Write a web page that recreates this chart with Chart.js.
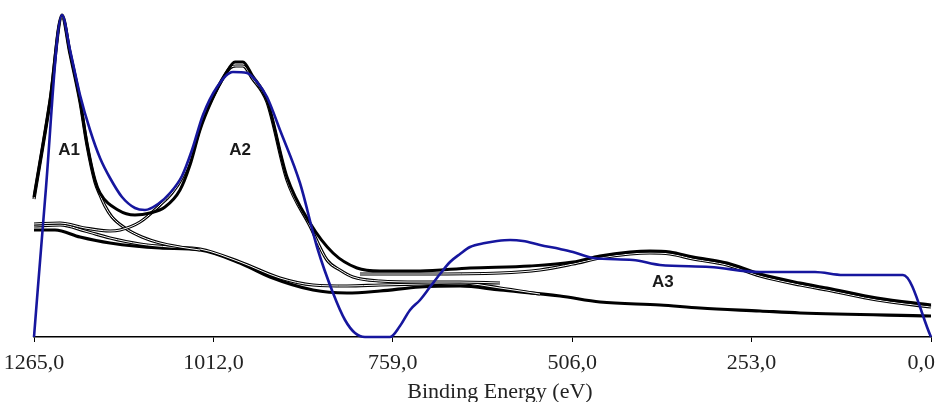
<!DOCTYPE html>
<html>
<head>
<meta charset="utf-8">
<script src="https://cdn.jsdelivr.net/npm/chart.js@4.4.1/dist/chart.umd.min.js"></script>
<style>
  html, body { margin: 0; padding: 0; background: #fff; }
  #wrap { width: 940px; height: 402px; }
</style>
</head>
<body>
<div id="wrap"><canvas id="xps"></canvas></div>
<script>
// x = binding energy (eV), y = intensity (arb. units)
const tickValues = [1265, 1012, 759, 506, 253, 0];
const axisTitle = 'Binding Energy (eV)';

// measured spectrum (blue)
const measE = [1265, 1249.5, 1225.5, 1214.2, 1200.1, 1186.0, 1171.9, 1157.8, 1140.9, 1122.6, 1108.5, 1090.1, 1073.2, 1056.3, 1042.2, 1026.7, 1006.9, 984.4, 964.6, 950.5, 936.4, 918.1, 889.9, 865.9, 843.3, 826.4, 812.3, 798.2, 763.0, 748.9, 734.7, 720.6, 706.5, 692.4, 678.3, 664.2, 650.1, 629.0, 612.0, 593.6, 575.4, 551.4, 523.2, 504.9, 476.7, 420.3, 382.2, 311.7, 241.1, 163.6, 124.1, 39.5, 0];
const measI = [0, 137, 322, 287, 242, 207, 179, 159, 140, 129, 127, 133, 144, 161, 187, 222, 250, 265, 264, 255, 240, 207, 154, 90, 44, 17, 4, 0, 0, 11, 27, 37, 50, 63, 75, 83, 90, 94, 96, 97, 96, 92, 88, 85, 79, 77, 72, 70, 65, 65, 62, 62, 0];

// fitted envelope (thick black)
const fitE = [1265, 1242.4, 1225.5, 1214.2, 1200.1, 1190.3, 1179.0, 1171.9, 1146.5, 1122.6, 1101.4, 1080.3, 1059.1, 1045.0, 1030.9, 1014.0, 995.6, 981.5, 970.3, 957.6, 936.4, 908.2, 875.8, 843.3, 809.5, 777.1, 720.6, 650.1, 565.5, 504.9, 466.8, 424.5, 396.3, 368.1, 335.7, 287.7, 241.1, 184.7, 146.7, 76.2, 0];
const fitI = [140, 237, 322, 285, 237, 194, 157, 144, 127, 122, 124, 130, 147, 172, 207, 237, 262, 275, 275, 262, 237, 160, 114, 84, 69, 66, 66, 69, 71, 75, 81, 85, 86, 85, 80, 74, 63, 54, 49, 39, 32];

// component A1
const a1E = [1265, 1242.4, 1225.5, 1214.2, 1200.1, 1190.3, 1179.0, 1171.9, 1164.9, 1155.0, 1136.7, 1112.7, 1087.3, 1059.1, 1030.9];
const a1I = [138, 235, 320, 283, 235, 192, 155, 142, 131, 120, 109, 100, 94, 90, 87];

// component A2
const a2E = [1265, 1228.3, 1193.1, 1157.8, 1143.7, 1115.5, 1087.3, 1070.4, 1056.3, 1042.2, 1026.7, 1006.9, 988.6, 980.1, 970.3, 957.6, 936.4, 908.2, 875.8, 851.8, 833.5, 815.1, 777.1, 720.6, 664.2, 607.8];
const a2I = [113, 114, 109, 106, 107, 115, 132, 144, 159, 183, 218, 248, 269, 271, 271, 259, 235, 157, 111, 77, 67, 60, 56, 55, 55, 54];

// component A3
const a3E = [805.3, 716.4, 607.8, 551.4, 504.9, 466.8, 424.5, 396.3, 368.1, 335.7, 287.7, 241.1, 184.7, 146.7, 76.2, 0];
const a3I = [63, 63, 64, 67, 73, 79, 83, 84, 83, 78, 72, 61, 52, 47, 37, 30];

// backgrounds
const bgAE = [1265, 1235.4, 1200.1, 1157.8, 1087.3, 1030.9, 974.5, 932.2, 871.5, 823.6, 777.1, 720.6, 664.2, 607.8, 523.2, 466.8, 382.2, 325.8, 241.1, 184.7, 0];
const bgAI = [107, 107, 100, 94, 89, 87, 74, 60, 47, 44, 46, 50, 51, 47, 41, 35, 32, 29, 26, 24, 21];
const bgBE = [1265, 1228.3, 1193.1, 1157.8, 1115.5, 1073.2, 1030.9, 974.5, 918.1, 871.5, 823.6, 777.1, 720.6, 664.2, 607.8, 551.4];
const bgBI = [111, 112, 106, 99, 93, 90, 88, 75, 59, 52, 51, 52, 53, 54, 49, 43];

// peak labels
const peakNames = ['A1', 'A2', 'A3'];
const peakE = [1215.6, 974.5, 378];
const peakI = [187, 187, 55];

function pts(xs, ys) {
    return xs.map((x, i) => ({ x: x, y: ys[i] }));
}

function line(data, color, width, order) {
    return {
        data: data,
        borderColor: color,
        borderWidth: width,
        pointRadius: 0,
        fill: false,
        cubicInterpolationMode: 'monotone',
        clip: false,
        order: order
    };
}

// "double" strokes = black line with a white core
const datasets = [
    line(pts(measE, measI), '#16169e', 2.6, 1),
    line(pts(fitE, fitI), '#000', 3, 2),
    line(pts(a3E, a3I), '#fff', 1, 4.9),
    line(pts(a3E, a3I), '#000', 3.2, 5),
    line(pts(a2E, a2I), '#fff', 1, 5.9),
    line(pts(a2E, a2I), '#000', 3.2, 6),
    line(pts(a1E, a1I), '#fff', 1, 6.9),
    line(pts(a1E, a1I), '#000', 3.2, 7),
    line(pts(bgBE, bgBI), '#fff', 1, 8.9),
    line(pts(bgBE, bgBI), '#000', 3.2, 9),
    line(pts(bgAE, bgAI), '#000', 3.2, 10)
];

function fmt(v) {
    return v.toFixed(1).replace('.', ',');
}

const textPlugin = {
    id: 'texts',
    afterDraw(chart) {
        const ctx = chart.ctx;
        const xs = chart.scales.x;
        const ys = chart.scales.y;
        const bottom = chart.chartArea.bottom;
        ctx.save();
        // tick labels
        ctx.font = '22px "Liberation Serif", "Times New Roman", serif';
        ctx.fillStyle = '#222';
        ctx.textAlign = 'center';
        ctx.textBaseline = 'alphabetic';
        tickValues.forEach(v => {
            const txt = fmt(v);
            const w = ctx.measureText(txt).width;
            let px = xs.getPixelForValue(v);
            px = Math.max(px, w / 2 + 3);
            px = Math.min(px, chart.width - w / 2 - 5);
            ctx.fillText(txt, px, bottom + 32);
        });
        // axis title
        ctx.fillText(axisTitle, 500, bottom + 61);
        // peak labels
        ctx.font = 'bold 17px "Liberation Sans", Arial, sans-serif';
        ctx.fillStyle = '#1a1a1a';
        ctx.textBaseline = 'middle';
        peakNames.forEach((n, i) => {
            ctx.fillText(n, xs.getPixelForValue(peakE[i]), ys.getPixelForValue(peakI[i]));
        });
        ctx.restore();
    }
};

new Chart(document.getElementById('xps'), {
    type: 'line',
    data: { datasets: datasets },
    options: {
        responsive: true,
        maintainAspectRatio: false,
        animation: false,
        events: [],
        layout: { padding: { left: 34, right: 9, top: 10, bottom: 60 } },
        plugins: {
            legend: { display: false },
            tooltip: { enabled: false }
        },
        scales: {
            x: {
                type: 'linear',
                reverse: true,
                min: 0,
                max: 1265,
                afterBuildTicks: scale => {
                    scale.ticks = tickValues.map(v => ({ value: v }));
                },
                ticks: { display: false },
                grid: {
                    display: true,
                    drawOnChartArea: false,
                    drawTicks: true,
                    tickLength: 5,
                    color: '#000'
                },
                border: { display: true, color: '#000', width: 1.5 }
            },
            y: {
                display: false,
                min: 0,
                max: 327
            }
        }
    },
    plugins: [textPlugin]
});
</script>
</body>
</html>
